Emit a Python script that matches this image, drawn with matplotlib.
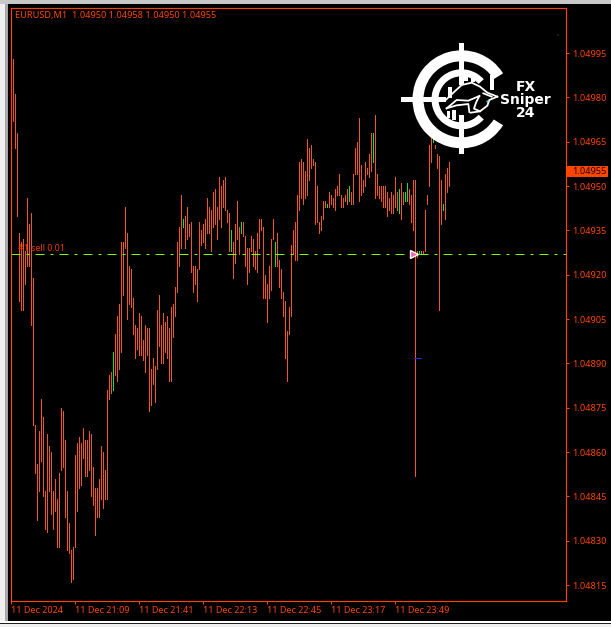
import matplotlib
matplotlib.use('Agg')
import matplotlib.pyplot as plt
from matplotlib.patches import Rectangle, Wedge

# bar highs / lows, in points above 1.04800 (one bar per minute)
highs = [176, 193, 181, 168, 134, 131, 132, 128, 146, 137,
         141, 119, 69, 56, 67, 78, 72, 47, 66, 62,
         60, 47, 51, 44, 53, 75, 74, 64, 47, 36,
         27, 28, 59, 63, 65, 63, 68, 64, 64, 67,
         66, 55, 48, 48, 51, 62, 60, 54, 81, 86,
         87, 94, 100, 106, 110, 131, 131, 143, 134, 123,
         122, 112, 103, 102, 107, 106, 98, 103, 102, 102,
         88, 92, 89, 108, 113, 103, 107, 104, 106, 102,
         109, 110, 116, 131, 136, 147, 139, 140, 143, 137,
         138, 123, 123, 122, 138, 135, 137, 139, 146, 143,
         142, 148, 149, 143, 153, 150, 152, 153, 142, 141,
         135, 131, 137, 145, 136, 138, 138, 133, 129, 129,
         133, 132, 128, 134, 139, 139, 136, 120, 117, 123,
         132, 139, 131, 134, 125, 122, 114, 111, 101, 109,
         130, 135, 138, 147, 158, 159, 158, 155, 166, 163,
         164, 159, 158, 150, 138, 140, 145, 145, 144, 148,
         147, 146, 149, 150, 154, 147, 146, 147, 149, 150,
         148, 154, 163, 165, 173, 157, 152, 158, 156, 161,
         168, 168, 174, 154, 150, 150, 150, 150, 148, 146,
         148, 147, 153, 148, 149, 151, 148, 148, 151, 149,
         147, 152, 152, 128, 128, 128, 128, 142, 147, 164,
         167, 166, 164, 161, 160, 152, 144, 154, 156, 158]
lows = [167, 172, 163, 140, 111, 108, 108, 117, 123, 123,
        103, 69, 53, 37, 47, 57, 45, 34, 33, 47,
        39, 34, 40, 28, 28, 54, 55, 38, 27, 26,
        16, 17, 28, 40, 48, 49, 58, 52, 52, 54,
        45, 42, 32, 38, 38, 44, 41, 44, 44, 78,
        80, 81, 86, 84, 88, 94, 113, 129, 105, 110,
        109, 100, 92, 95, 93, 93, 91, 87, 93, 74,
        76, 83, 77, 88, 96, 90, 90, 94, 92, 84,
        84, 99, 106, 114, 123, 129, 136, 129, 132, 133,
        121, 114, 117, 111, 122, 130, 131, 129, 134, 134,
        128, 136, 137, 132, 139, 136, 143, 142, 138, 128,
        128, 119, 124, 132, 127, 134, 133, 123, 117, 121,
        128, 123, 122, 121, 129, 135, 112, 112, 104, 112,
        115, 132, 123, 123, 116, 112, 106, 92, 84, 100,
        106, 127, 125, 125, 142, 146, 144, 146, 147, 152,
        156, 157, 137, 138, 134, 135, 139, 143, 143, 143,
        144, 143, 142, 147, 147, 143, 143, 145, 144, 145,
        144, 144, 154, 154, 145, 147, 148, 150, 154, 153,
        155, 158, 146, 147, 146, 145, 143, 143, 140, 142,
        141, 141, 143, 142, 141, 139, 144, 145, 145, 144,
        138, 135, 52, 126, 127, 127, 127, 128, 144, 150,
        158, 165, 163, 156, 108, 137, 142, 139, 148, 150]
up_bars = [51, 86, 110, 115, 132, 158, 169, 181, 194, 197, 198, 204, 205, 211, 216]

price_labels = ['1.04995', '1.04980', '1.04965', '1.04950', '1.04935', '1.04920', '1.04905',
                '1.04890', '1.04875', '1.04860', '1.04845', '1.04830', '1.04815']
time_labels = ['11 Dec 2024', '11 Dec 21:09', '11 Dec 21:41', '11 Dec 22:13',
               '11 Dec 22:45', '11 Dec 23:17', '11 Dec 23:49']
time_bars = [0, 32, 64, 96, 128, 160, 192]
order_price = 1.04927
last_price = 1.04955

ORANGE = '#FF4500'
BAR = '#F0561F'
FONT = 'Noto Sans'
W, H = 611, 627

base = 1.048
high_p = [base + p * 1e-5 for p in highs]
low_p = [base + p * 1e-5 for p in lows]
colors = ['#22E022' if i in up_bars else BAR for i in range(len(highs))]

fig = plt.figure(figsize=(W / 100, H / 100), dpi=100, facecolor='black')
ax = fig.add_axes([10.5 / W, 26.5 / H, 555 / W, 593 / H], facecolor='black')

ax.vlines(range(len(highs)), low_p, high_p, colors=colors, lw=0.72, antialiased=False)
ax.set_xlim(-0.4, 277.1)
ax.set_ylim(1.048098, 1.050104)

# order line and its arrow
ax.plot([-0.4, 277.1], [order_price, order_price], color='#80FF00', lw=0.72,
        ls=(0, (9, 6, 3, 6)), dash_capstyle='butt')
ax.plot([201.5], [order_price], marker='>', ms=5.5, mfc='#FF60B0', mec='white', mew=1, zorder=5)
ax.plot([201.5, 205], [1.04892, 1.04892], color='#2030D0', lw=0.8, zorder=4)
ax.text(3.4, order_price + 0.000018, '#1 sell 0.01', color='#E83A00', fontsize=6.4, family=FONT, va='center')

for s in ax.spines.values():
    s.set_color(ORANGE)
    s.set_linewidth(0.85)

ax.yaxis.tick_right()
ax.set_yticks([float(t) for t in price_labels])
ax.set_yticklabels(price_labels, family=FONT, fontsize=6.6, color=ORANGE)
ax.set_xticks(time_bars)
ax.set_xticklabels(time_labels, family=FONT, fontsize=6.5, color=ORANGE, ha='left')
ax.tick_params(axis='both', length=2.2, width=0.72, color=ORANGE, pad=2.5)
ax.tick_params(axis='x', pad=1.5)

# overlay in pixel coordinates: window edges, title, price tag, logo
ov = fig.add_axes([0, 0, 1, 1], facecolor='none')
ov.set_xlim(0, W)
ov.set_ylim(H, 0)
ov.axis('off')

ov.add_patch(Rectangle((0, 0), 4.5, H, color='#F0F0F0', lw=0))
ov.add_patch(Rectangle((4.5, 0), 3, H, color='#A8A8A8', lw=0))
ov.add_patch(Rectangle((0, 0), W, 3.5, color='#C8C8C8', lw=0))
ov.add_patch(Rectangle((0, 620.5), W, 2.5, color='white', lw=0))
ov.add_patch(Rectangle((0, 623), W, 1.2, color='#202020', lw=0))
ov.add_patch(Rectangle((0, 624.2), W, 3, color='#F0F0F0', lw=0))
ov.plot([558], [35], marker='s', ms=1.8, color='#1C1C1C', mew=0)

ov.text(15, 15.5, 'EURUSD,M1  1.04950 1.04958 1.04950 1.04955', color=ORANGE,
        family=FONT, fontsize=6.6, va='center')

ov.add_patch(Rectangle((567, 166), 41, 11, color=ORANGE, lw=0))
ov.text(572, 171.5, f'{last_price:.5f}', color='#200800', family=FONT, fontsize=6.6, va='center')

# logo
cx, cy = 461.5, 99.3
ov.add_patch(Wedge((cx, cy), 49, 32, 328, width=11, color='white', lw=0))
ov.add_patch(Wedge((cx, cy), 30, 42, 318, width=7, color='white', lw=0))
ov.add_patch(Rectangle((cx - 2.8, 43), 5.6, 42, color='white', lw=0))
ov.add_patch(Rectangle((cx - 2.8, 115), 5.6, 39, color='white', lw=0))
ov.add_patch(Rectangle((400.5, cy - 2.8), 45, 5.6, color='white', lw=0))

def zx(z):
    return 400 + z / 3

def zy(z):
    return 40 + z / 3

bull_lines = [
    [(135, 182), (160, 158), (185, 135), (215, 128), (240, 140), (262, 158), (292, 170)],
    [(292, 170), (268, 180), (262, 197), (240, 214), (222, 206), (228, 188), (238, 168)],
    [(238, 168), (205, 182), (170, 180), (140, 205)],
    [(140, 205), (170, 196), (205, 192), (208, 216)],
    [(240, 214), (212, 218)],
    [(250, 160), (275, 170)],
]
for line in bull_lines:
    ov.plot([zx(p[0]) for p in line], [zy(p[1]) for p in line], color='white', lw=1.3)
for z0, z1, t0, t1 in [(270, 283, 106, 150), (145, 155, 142, 175), (156, 168, 210, 240),
                       (140, 150, 212, 235), (192, 203, 104, 124), (212, 226, 108, 126)]:
    ov.add_patch(Rectangle((zx(z0), zy(t0)), (z1 - z0) / 3, (t1 - t0) / 3, color='white', lw=0))
ov.plot([zx(262)], [zy(183)], marker='o', ms=1.6, color='#40E0E0', mew=0)

ov.text(525.7, 87, 'FX', color='white', family='DejaVu Sans', weight='bold', fontsize=10, ha='center', va='center')
ov.text(525.7, 100, 'Sniper', color='white', family='DejaVu Sans', weight='bold', fontsize=10, ha='center', va='center')
ov.text(525.7, 113, '24', color='white', family='DejaVu Sans', weight='bold', fontsize=10, ha='center', va='center')

fig.savefig('out.png', dpi=100, facecolor='black')
